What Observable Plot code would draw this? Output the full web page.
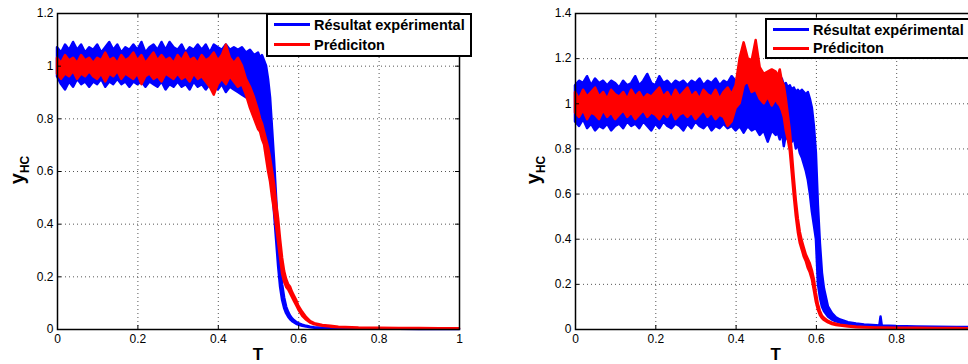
<!DOCTYPE html>
<html><head><meta charset="utf-8">
<script src="https://cdn.jsdelivr.net/npm/d3@7"></script>
<script src="https://cdn.jsdelivr.net/npm/@observablehq/plot@0.6"></script>
<style>
body{margin:0;background:#fff;}
#wrap{position:relative;width:968px;height:364px;overflow:hidden;background:#fff;font-family:"Liberation Sans",Arial,sans-serif;color:#000;}
.panel{position:absolute;top:0;}
.legend{position:absolute;background:#fff;border:2px solid #000;box-sizing:border-box;font-weight:bold;font-size:14.5px;}
.legend .sw{position:absolute;width:36px;height:3px;}
.legend .tx{position:absolute;line-height:16px;white-space:nowrap;}
.ylab{position:absolute;font-weight:bold;font-size:20px;line-height:1;white-space:nowrap;transform:translate(-50%,-50%) rotate(-90deg);}
.ylab sub{font-size:12px;vertical-align:-5px;}
.xlab{position:absolute;font-weight:bold;font-size:17px;line-height:1;transform:translateX(-50%);}
</style>
</head><body>
<div id="wrap"></div>
<script>
// ---------- data ----------
const seriesNames = ["Résultat expérimental", "Prédiciton"];
const xTicks = [0, 0.2, 0.4, 0.6, 0.8, 1];
const rightXLabelTicks = [0, 0.2, 0.4, 0.6, 0.8];
const leftYTicks = [0, 0.2, 0.4, 0.6, 0.8, 1, 1.2];
const rightYTicks = [0, 0.2, 0.4, 0.6, 0.8, 1, 1.2, 1.4];

// Left panel
const leftT = [0,0.01,0.02,0.03,0.04,0.05,0.06,0.07,0.08,0.09,
0.1,0.11,0.12,0.13,0.14,0.15,0.16,0.17,0.18,0.19,
0.2,0.21,0.22,0.23,0.24,0.25,0.26,0.27,0.28,0.29,
0.3,0.31,0.32,0.33,0.34,0.35,0.36,0.37,0.38,0.39,
0.4,0.41,0.42,0.43,0.44,0.45,0.46,0.47,0.48,0.49,
0.5,0.505,0.51,0.515,0.52,0.525,0.53,0.535,0.54,0.545,
0.55,0.555,0.56,0.565,0.57,0.575,0.58,0.585,0.59,0.595,
0.6,0.61,0.62,0.63,0.64,0.66,0.68,0.7,0.75,0.8,
0.85,0.9,0.95,1];
const leftBlueHi = [1.07,1.05,1.08,1.06,1.09,1.06,1.08,1.05,1.07,1.06,
1.08,1.05,1.07,1.09,1.06,1.08,1.05,1.07,1.06,1.08,
1.06,1.09,1.05,1.07,1.08,1.06,1.09,1.06,1.09,1.07,
1.06,1.08,1.05,1.07,1.06,1.08,1.06,1.08,1.05,1.08,
1.07,1.06,1.08,1.06,1.07,1.06,1.07,1.05,1.06,1.04,
1.05,1.03,1.04,1.02,1.0,0.95,0.88,0.76,0.64,0.5,
0.36,0.25,0.17,0.12,0.085,0.065,0.05,0.04,0.033,0.027,
0.022,0.016,0.012,0.009,0.007,0.005,0.004,0.003,0.002,0.002,
0.001,0.001,0.001,0.001];
const leftBlueLo = [0.96,0.93,0.91,0.94,0.92,0.95,0.93,0.94,0.92,0.94,
0.93,0.95,0.92,0.94,0.93,0.95,0.93,0.94,0.92,0.94,
0.93,0.94,0.92,0.94,0.93,0.92,0.94,0.91,0.93,0.92,
0.94,0.92,0.93,0.91,0.94,0.92,0.93,0.91,0.93,0.92,
0.91,0.93,0.9,0.92,0.91,0.9,0.89,0.88,0.87,0.86,
0.84,0.82,0.8,0.77,0.73,0.68,0.62,0.54,0.44,0.34,
0.24,0.16,0.11,0.08,0.06,0.047,0.037,0.03,0.025,0.02,
0.017,0.012,0.009,0.007,0.005,0.004,0.003,0.002,0.001,0.001,
0.001,0,0,0];
const leftRedHi = [1.03,1.01,1.04,1.02,1.03,1.01,1.04,1.02,1.03,1.01,
1.03,1.02,1.05,1.02,1.03,1.01,1.04,1.02,1.03,1.05,
1.02,1.04,1.01,1.03,1.05,1.02,1.04,1.02,1.03,1.01,
1.04,1.02,1.05,1.02,1.03,1.01,1.04,1.02,1.03,1.05,
1.02,1.04,1.08,1.03,1.01,1.03,1.0,0.95,0.92,0.88,
0.83,0.8,0.78,0.75,0.72,0.69,0.65,0.6,0.55,0.48,
0.42,0.34,0.27,0.22,0.19,0.17,0.16,0.14,0.125,0.11,
0.09,0.065,0.045,0.03,0.022,0.015,0.012,0.009,0.006,0.005,
0.004,0.004,0.003,0.003];
const leftRedLo = [0.97,0.95,0.97,0.96,0.98,0.95,0.97,0.96,0.98,0.96,
0.95,0.97,0.94,0.97,0.96,0.98,0.95,0.97,0.96,0.95,
0.97,0.93,0.96,0.97,0.95,0.96,0.94,0.97,0.96,0.95,
0.97,0.95,0.96,0.94,0.97,0.95,0.96,0.94,0.92,0.89,
0.93,0.95,0.93,0.96,0.94,0.92,0.93,0.89,0.84,0.8,
0.76,0.75,0.72,0.7,0.65,0.6,0.56,0.5,0.45,0.39,
0.33,0.27,0.21,0.18,0.16,0.15,0.135,0.12,0.105,0.09,
0.075,0.05,0.035,0.024,0.018,0.012,0.009,0.007,0.005,0.004,
0.003,0.003,0.002,0.002];

// Right panel
const rightT = [0,0.01,0.02,0.03,0.04,0.05,0.06,0.07,0.08,0.09,
0.1,0.11,0.12,0.13,0.14,0.15,0.16,0.17,0.18,0.19,
0.2,0.21,0.22,0.23,0.24,0.25,0.26,0.27,0.28,0.29,
0.3,0.31,0.32,0.33,0.34,0.35,0.36,0.37,0.38,0.39,
0.4,0.41,0.42,0.43,0.44,0.45,0.46,0.47,0.48,0.49,
0.5,0.505,0.51,0.515,0.52,0.525,0.53,0.535,0.54,0.545,
0.55,0.555,0.56,0.565,0.57,0.575,0.58,0.585,0.59,0.595,
0.6,0.605,0.61,0.615,0.62,0.63,0.64,0.65,0.66,0.68,
0.7,0.72,0.75,0.758,0.761,0.764,0.8,0.85,0.9,0.95,
1];
const rightBlueHi = [1.08,1.1,1.09,1.12,1.08,1.11,1.09,1.1,1.08,1.1,
1.09,1.07,1.1,1.08,1.09,1.12,1.08,1.1,1.13,1.09,
1.08,1.12,1.09,1.1,1.08,1.1,1.09,1.1,1.08,1.1,
1.09,1.11,1.08,1.1,1.09,1.11,1.08,1.1,1.09,1.12,
1.1,1.12,1.09,1.1,1.08,1.1,1.09,1.1,1.11,1.09,
1.1,1.12,1.1,1.11,1.08,1.09,1.07,1.08,1.06,1.07,
1.05,1.06,1.05,1.06,1.05,1.04,1.05,1.02,0.98,0.9,
0.78,0.55,0.38,0.25,0.18,0.1,0.07,0.052,0.042,0.03,
0.024,0.02,0.017,0.016,0.055,0.016,0.013,0.011,0.01,0.009,
0.008];
const rightBlueLo = [0.92,0.9,0.93,0.89,0.91,0.88,0.9,0.89,0.91,0.88,
0.9,0.91,0.89,0.92,0.9,0.91,0.89,0.92,0.9,0.88,
0.91,0.89,0.92,0.9,0.89,0.91,0.9,0.88,0.91,0.89,
0.92,0.9,0.89,0.91,0.88,0.9,0.89,0.91,0.89,0.9,
0.88,0.9,0.87,0.9,0.88,0.89,0.86,0.88,0.83,0.88,
0.86,0.87,0.84,0.88,0.81,0.86,0.84,0.87,0.83,0.85,
0.8,0.82,0.78,0.76,0.73,0.7,0.66,0.6,0.52,0.46,
0.4,0.2,0.14,0.1,0.08,0.055,0.042,0.034,0.028,0.02,
0.016,0.013,0.011,0.011,0.011,0.011,0.009,0.007,0.006,0.005,
0.005];
const rightRedHi = [1.05,1.02,1.06,1.03,1.05,1.07,1.03,1.05,1.02,1.06,
1.04,1.03,1.05,1.02,1.06,1.03,1.05,1.02,1.04,1.03,
1.05,1.07,1.03,1.05,1.02,1.06,1.03,1.05,1.07,1.03,
1.05,1.02,1.06,1.04,1.03,1.06,1.02,1.05,1.07,1.04,
1.08,1.2,1.27,1.2,1.19,1.28,1.16,1.13,1.14,1.15,
1.14,1.12,1.15,1.1,1.08,1.02,0.95,0.88,0.78,0.67,
0.57,0.49,0.43,0.39,0.36,0.33,0.31,0.29,0.26,0.22,
0.16,0.11,0.08,0.06,0.05,0.036,0.028,0.023,0.019,0.014,
0.011,0.009,0.007,0.007,0.007,0.007,0.006,0.005,0.004,0.004,
0.003];
const rightRedLo = [0.96,0.94,0.97,0.93,0.96,0.95,0.93,0.97,0.94,0.96,
0.93,0.95,0.97,0.94,0.96,0.93,0.95,0.97,0.94,0.96,
0.95,0.93,0.96,0.94,0.97,0.93,0.95,0.96,0.94,0.96,
0.93,0.95,0.97,0.94,0.96,0.93,0.95,0.94,0.9,0.92,
0.98,1.0,1.08,1.1,1.05,1.06,1.02,1.0,1.03,0.99,
1.02,1.0,0.99,0.97,0.94,0.88,0.84,0.79,0.69,0.59,
0.5,0.43,0.38,0.35,0.32,0.3,0.27,0.25,0.22,0.17,
0.12,0.085,0.062,0.048,0.04,0.029,0.022,0.018,0.015,0.011,
0.008,0.007,0.005,0.005,0.005,0.005,0.004,0.003,0.003,0.002,
0.002];

const BLUE = "#0000ff", RED = "#ff0000";

function panel({T, blueLo, blueHi, redLo, redHi, yMax, yTicks, xLabelTicks, width, marginLeft, marginRight}) {
  const blue = T.map((t, i) => ({t, lo: blueLo[i], hi: blueHi[i]}));
  const red = T.map((t, i) => ({t, lo: redLo[i], hi: redHi[i]}));
  const innerH = 364 - 13 - 35, innerW = width - marginLeft - marginRight;
  const tY = yMax * 4 / innerH, tX = 4 / innerW;
  const grid = {stroke: "#555", strokeOpacity: 1, strokeWidth: 1, strokeDasharray: "1,3"};
  return Plot.plot({
    width, height: 364, marginLeft, marginRight, marginTop: 13, marginBottom: 35,
    style: {fontFamily: '"Liberation Sans", Arial, sans-serif', fontSize: "12px", color: "#000", background: "transparent", overflow: "visible"},
    x: {domain: [0, 1]},
    y: {domain: [0, yMax]},
    marks: [
      Plot.gridX(xTicks, grid),
      Plot.gridY(yTicks, grid),
      Plot.areaY(blue, {x: "t", y1: "lo", y2: "hi", fill: BLUE, stroke: BLUE, strokeWidth: 2.5, strokeLinejoin: "round"}),
      Plot.areaY(red, {x: "t", y1: "lo", y2: "hi", fill: RED, stroke: RED, strokeWidth: 2.5, strokeLinejoin: "round"}),
      Plot.ruleX(xTicks, {y1: 0, y2: tY, stroke: "#000"}),
      Plot.ruleX(xTicks, {y1: yMax - tY, y2: yMax, stroke: "#000"}),
      Plot.ruleY(yTicks, {x1: 0, x2: tX, stroke: "#000"}),
      Plot.ruleY(yTicks, {x1: 1 - tX, x2: 1, stroke: "#000"}),
      Plot.frame({stroke: "#000", strokeWidth: 1.5}),
      Plot.axisX({ticks: xLabelTicks, tickSize: 0, tickPadding: 5, label: null, tickFormat: d => String(d), fontSize: 12}),
      Plot.axisY({ticks: yTicks, tickSize: 0, tickPadding: 4, label: null, tickFormat: d => String(d), fontSize: 12})
    ]
  });
}

const wrap = document.getElementById("wrap");

const left = panel({T: leftT, blueLo: leftBlueLo, blueHi: leftBlueHi, redLo: leftRedLo, redHi: leftRedHi,
  yMax: 1.2, yTicks: leftYTicks, xLabelTicks: xTicks, width: 480, marginLeft: 57, marginRight: 21});
left.classList.add("panel"); left.style.left = "0px";
wrap.appendChild(left);

const right = panel({T: rightT, blueLo: rightBlueLo, blueHi: rightBlueHi, redLo: rightRedLo, redHi: rightRedHi,
  yMax: 1.4, yTicks: rightYTicks, xLabelTicks: rightXLabelTicks, width: 500, marginLeft: 85, marginRight: 13.5});
right.classList.add("panel"); right.style.left = "490px";
wrap.appendChild(right);

function legend(x, y, w, h, sx, s1, s2, tx, t1, t2) {
  const d = document.createElement("div");
  d.className = "legend";
  Object.assign(d.style, {left: x + "px", top: y + "px", width: w + "px", height: h + "px"});
  d.innerHTML =
    `<div class="sw" style="left:${sx}px;top:${s1}px;background:${BLUE}"></div>` +
    `<div class="tx" style="left:${tx}px;top:${t1}px">${seriesNames[0]}</div>` +
    `<div class="sw" style="left:${sx}px;top:${s2}px;background:${RED}"></div>` +
    `<div class="tx" style="left:${tx}px;top:${t2}px">${seriesNames[1]}</div>`;
  wrap.appendChild(d);
}
legend(266, 13, 206, 44, 6, 8, 28, 46, 2, 22);
legend(765, 18, 230, 41, 6, 8, 26.5, 46, 1.6, 20.4);

function ylab(cx, cy) {
  const d = document.createElement("div");
  d.className = "ylab";
  d.style.left = cx + "px"; d.style.top = cy + "px";
  d.innerHTML = "y<sub>HC</sub>";
  wrap.appendChild(d);
}
ylab(19, 170); ylab(535, 170);

function xlab(cx) {
  const d = document.createElement("div");
  d.className = "xlab";
  d.style.left = cx + "px"; d.style.top = "346px";
  d.textContent = "T";
  wrap.appendChild(d);
}
xlab(258); xlab(775.75);
</script>
</body></html>
